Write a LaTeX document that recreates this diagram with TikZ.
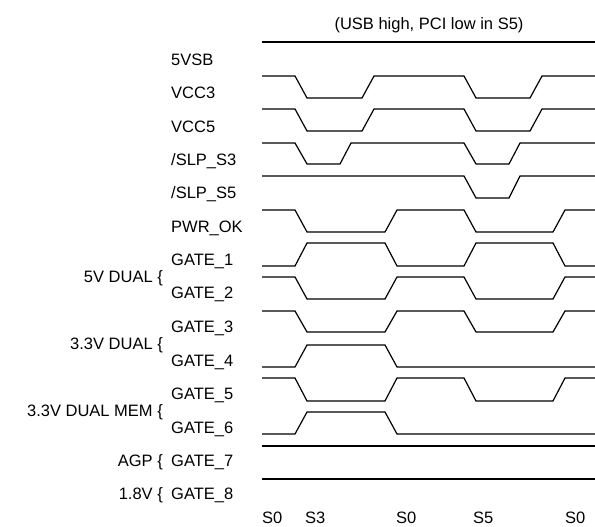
\documentclass[tikz,border=0pt]{standalone}
\usepackage{fontspec}
\setmainfont{Liberation Sans}
\usepackage{tikz}
\usetikzlibrary{positioning}

\begin{document}
\begin{tikzpicture}[
    x=1pt,y=-1pt,
    every node/.style={font=\fontsize{16.5}{19}\selectfont,inner sep=0pt},
    sig/.style={line width=1.2pt,line join=miter},
    lbl/.style={anchor=west},
    grp/.style={anchor=east},
    st/.style={anchor=west}
  ]
  \useasboundingbox (0,0) rectangle (595,527);
  %% Title
  \node (title) at (429,25) {(USB high, PCI low in S5)};
  %% Signal names
  \node[lbl] (n5vsb) at (171,60)  {5VSB};
  \node[lbl] (nvcc3) at (171,93)  {VCC3};
  \node[lbl] (nvcc5) at (171,127) {VCC5};
  \node[lbl] (nslp3) at (171,161) {/SLP\_S3};
  \node[lbl] (nslp5) at (171,194) {/SLP\_S5};
  \node[lbl] (npwr)  at (171,228) {PWR\_OK};
  \node[lbl] (ng1)   at (171,261) {GATE\_1};
  \node[lbl] (ng2)   at (171,294) {GATE\_2};
  \node[lbl] (ng3)   at (171,328) {GATE\_3};
  \node[lbl] (ng4)   at (171,362) {GATE\_4};
  \node[lbl] (ng5)   at (171,395) {GATE\_5};
  \node[lbl] (ng6)   at (171,429) {GATE\_6};
  \node[lbl] (ng7)   at (171,462) {GATE\_7};
  \node[lbl] (ng8)   at (171,495) {GATE\_8};
  %% Rail groups
  \node[grp] (g5v)  at (163,278) {5V DUAL \{};
  \node[grp] (g33)  at (163,345) {3.3V DUAL \{};
  \node[grp] (gmem) at (163,412) {3.3V DUAL MEM \{};
  \node[grp] (gagp) at (163,462) {AGP \{};
  \node[grp] (g18)  at (163,495) {1.8V \{};
  %% Waveforms
  \draw[sig] (262,42) -- (595,42);
  \draw[sig] (262,76) -- (295,76) -- (307,98) -- (362,98) -- (374,76)
    -- (464,76) -- (476,98) -- (530,98) -- (542,76) -- (595,76);
  \draw[sig] (262,109) -- (295,109) -- (307,131) -- (362,131) -- (374,109)
    -- (464,109) -- (476,131) -- (530,131) -- (542,109) -- (595,109);
  \draw[sig] (262,143) -- (295,143) -- (307,164) -- (340,164) -- (351,143)
    -- (464,143) -- (476,164) -- (509,164) -- (520,143) -- (595,143);
  \draw[sig] (262,176) -- (464,176) -- (476,198) -- (509,198) -- (520,176) -- (595,176);
  \draw[sig] (262,210) -- (295,210) -- (307,232) -- (385,232) -- (397,210)
    -- (464,210) -- (476,232) -- (553,232) -- (565,210) -- (595,210);
  \draw[sig] (262,266) -- (295,266) -- (307,243) -- (385,243) -- (397,266)
    -- (464,266) -- (476,243) -- (553,243) -- (565,266) -- (595,266);
  \draw[sig] (262,277) -- (295,277) -- (307,299) -- (385,299) -- (397,277)
    -- (464,277) -- (476,299) -- (553,299) -- (565,277) -- (595,277);
  \draw[sig] (262,311) -- (295,311) -- (307,332) -- (385,332) -- (397,311)
    -- (464,311) -- (476,332) -- (553,332) -- (565,311) -- (595,311);
  \draw[sig] (262,367) -- (295,367) -- (307,345) -- (385,345) -- (397,367) -- (595,367);
  \draw[sig] (262,378) -- (295,378) -- (307,401) -- (385,401) -- (397,378)
    -- (464,378) -- (476,401) -- (553,401) -- (565,378) -- (595,378);
  \draw[sig] (262,434) -- (295,434) -- (307,412) -- (385,412) -- (397,434) -- (595,434);
  \draw[sig] (262,446) -- (595,446);
  \draw[sig] (262,479) -- (595,479);
  %% States
  \node[st] (s0a) at (262,518) {S0};
  \node[st] (s3)  at (305,518) {S3};
  \node[st] (s0b) at (396,518) {S0};
  \node[st] (s5)  at (473,518) {S5};
  \node[st] (s0c) at (565,518) {S0};
\end{tikzpicture}
\end{document}
